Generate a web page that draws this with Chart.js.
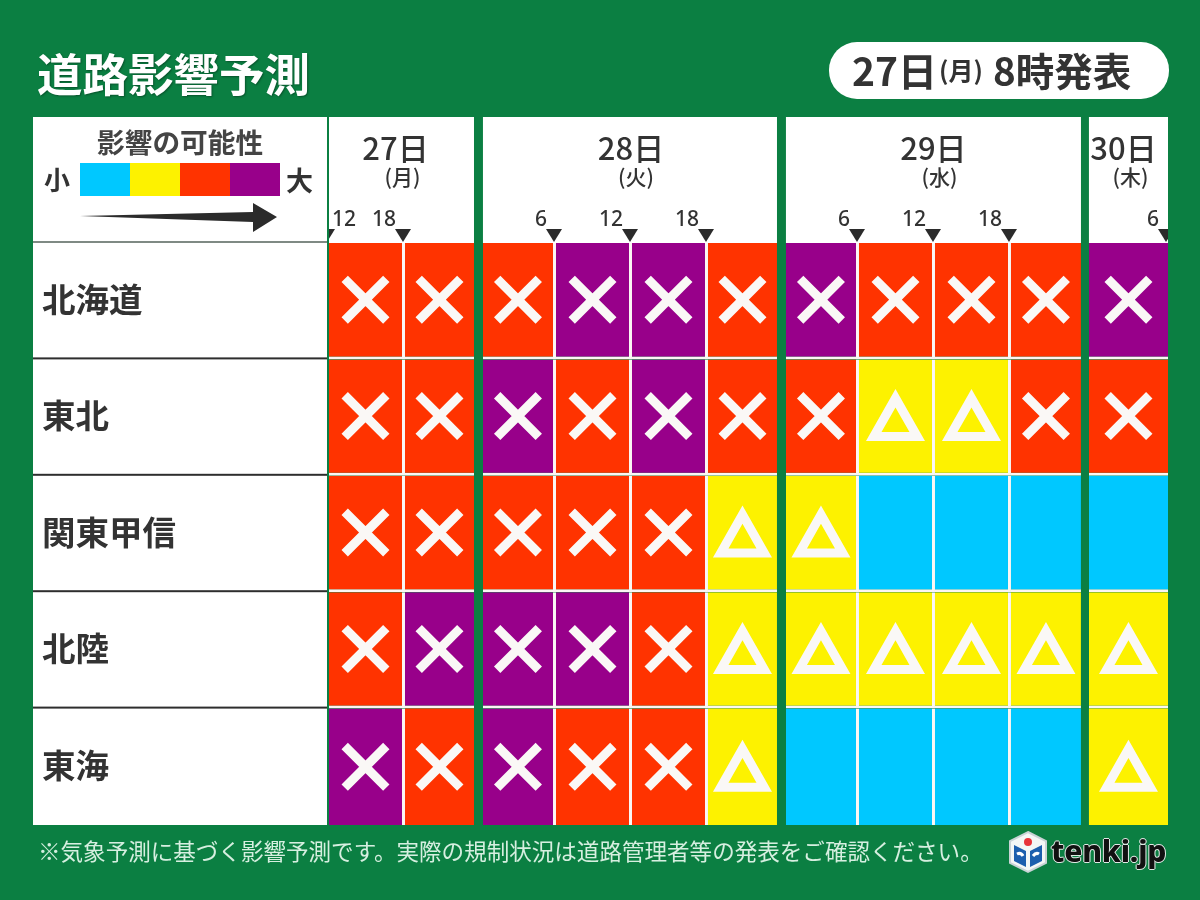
<!DOCTYPE html>
<html lang="ja">
  <head>
    <meta charset="utf-8" />
    <title>道路影響予測</title>
    <style>
      html, body { margin: 0; padding: 0; }
      body {
        width: 1200px;
        height: 900px;
        position: relative;
        overflow: hidden;
        background: #0b7f42;
        font-family: "Noto Sans CJK JP", sans-serif;
        color: #333;
      }
      #chart { position: absolute; left: 0; top: 0; }
      .abs { position: absolute; white-space: nowrap; line-height: 1; }
      #title {
        left: 37px; top: 50px;
        font-size: 45.5px; font-weight: 700; color: #fff;
        text-shadow: 1px 1px 2px rgba(0, 0, 0, 0.35);
      }
      #pill {
        left: 829px; top: 42px; width: 340px; height: 57px;
        background: #fff; border-radius: 28px;
      }
      #pill span { position: absolute; font-weight: 700; line-height: 1; white-space: nowrap; }
      #footnote { left: 38px; top: 839px; font-size: 22.55px; color: #d6efe0; }
      #legend-title { left: 97px; top: 128px; font-size: 27.7px; font-weight: 700; color: #444; }
      #legend-small { left: 44px; top: 166px; font-size: 26px; font-weight: 700; }
      #legend-big { left: 286px; top: 166px; font-size: 27px; font-weight: 700; }
      #legend-bar { left: 80px; top: 163px; width: 200px; height: 33px; display: flex; }
      #legend-bar div { flex: 1; }
      #logo-text {
        left: 1051px; top: 836px;
        font-family: "Noto Sans", sans-serif; font-size: 30px; font-weight: 800; color: #111;
        letter-spacing: -0.2px;
        text-shadow: 1px 0 0 #dfe8e4, -1px 0 0 #dfe8e4, 0 1px 0 #dfe8e4, 0 -1px 0 #dfe8e4;
      }
    </style>
    <script src="https://cdn.jsdelivr.net/npm/chart.js"></script>
  </head>

  <body>
    <canvas id="chart" width="1200" height="900"></canvas>

    <div class="abs" id="title">道路影響予測</div>
    <div class="abs" id="pill">
      <span style="left: 23px; top: 8px; font-size: 39px">27日</span>
      <span style="left: 110px; top: 15px; font-size: 25px">(月)</span>
      <span style="left: 164px; top: 8px; font-size: 38.5px">8時発表</span>
    </div>

    <div class="abs" id="legend-title">影響の可能性</div>
    <div class="abs" id="legend-small">小</div>
    <div class="abs" id="legend-big">大</div>
    <div class="abs" id="legend-bar"></div>
    <svg class="abs" style="left: 0; top: 0" width="300" height="240">
      <polygon points="80,216 253,212 253,203 277,217 253,232 253,222" fill="#2b2b2b" />
    </svg>

    <div class="abs" id="footnote">※気象予測に基づく影響予測です。実際の規制状況は道路管理者等の発表をご確認ください。</div>

    <svg class="abs" style="left: 1006px; top: 830px" width="44" height="44" viewBox="0 0 44 44">
      <polygon points="22,2 40,11 40,33 22,42 4,33 4,11" fill="#f4f7f6" stroke="#c9d3d6" stroke-width="2" />
      <polygon points="8,15 20,21 20,37 8,31" fill="#1c5fae" />
      <polygon points="36,15 24,21 24,37 36,31" fill="#1c5fae" />
      <circle cx="22" cy="12" r="4" fill="#e8343a" />
      <path d="M11 24 q4 -2 6 2 M27 26 q3 -4 6 -2" stroke="#fff" stroke-width="3" fill="none" />
    </svg>
    <div class="abs" id="logo-text">tenki.jp</div>

    <script>
      const rowLabels = ["北海道", "東北", "関東甲信", "北陸", "東海"];
      const dayLabels = ["27日", "28日", "29日", "30日"];
      const weekdayLabels = ["(月)", "(火)", "(水)", "(木)"];
      const daySlotCounts = [2, 4, 4, 1];

      // width of each time slot on the x axis
      const slotSpans = [6.19, 5.62, 5.95, 6.19, 6.19, 5.62, 5.95, 6.19, 6.19, 5.7, 6.44];
      const dayGaps = [0.73, 0.73, 0.65];
      // one label per slot boundary, "" where no mark is printed
      const hourLabels = ["12", "18", "", "6", "12", "18", "", "6", "12", "18", "", "6"];

      // 1 = cyan, 2 = yellow, 3 = red, 4 = purple
      const hokkaido = [3, 3, 3, 4, 4, 3, 4, 3, 3, 3, 4];
      const tohoku = [3, 3, 4, 3, 4, 3, 3, 2, 2, 3, 3];
      const kanto = [3, 3, 3, 3, 3, 2, 2, 1, 1, 1, 1];
      const hokuriku = [3, 4, 4, 4, 3, 2, 2, 2, 2, 2, 2];
      const tokai = [4, 3, 4, 3, 3, 2, 1, 1, 1, 1, 2];
      const levelRows = [hokkaido, tohoku, kanto, hokuriku, tokai];

      const levelColors = { 1: "#00c8ff", 2: "#fdf200", 3: "#ff3300", 4: "#98008a" };
      const lineWhite = "#fbf6f4";
      const markWhite = "#faf8f6";
      const sepWidth = 3;

      // the date text does not sit quite centred over its block in the original
      const dayTextShift = [-6, 1, 0, -5];
      const weekdayTextShift = [1, 6, 6, 2];

      document.getElementById("legend-bar").innerHTML = [1, 2, 3, 4]
        .map((l) => '<div style="background:' + levelColors[l] + '"></div>')
        .join("");

      // stacked bars: one dataset per slot, with see-through spacers between days
      const datasets = [];
      const slotDatasetIndex = [];
      const slotEndsDay = [];
      const dayRanges = [];
      const boundaries = [];
      let slot = 0;
      let pos = 0;
      daySlotCounts.forEach((count, day) => {
        const dayStart = pos;
        for (let i = 0; i < count; i++) {
          const s = slot;
          const lastInDay = i === count - 1;
          slotDatasetIndex.push(datasets.length);
          slotEndsDay.push(lastInDay);
          boundaries.push(pos);
          datasets.push({
            data: rowLabels.map(() => slotSpans[s]),
            backgroundColor: levelRows.map((row) => levelColors[row[s]]),
            borderColor: lineWhite,
            borderSkipped: false,
            inflateAmount: 0,
            borderWidth: (ctx) => ({
              top: 0,
              left: 0,
              right: lastInDay ? 0 : sepWidth,
              bottom: ctx.dataIndex < rowLabels.length - 1 ? sepWidth : 0,
            }),
          });
          pos += slotSpans[s];
          slot++;
        }
        dayRanges.push([dayStart, pos]);
        if (day < dayGaps.length) {
          datasets.push({
            data: rowLabels.map(() => dayGaps[day]),
            backgroundColor: "rgba(0,0,0,0)",
            borderWidth: 0,
            inflateAmount: 0,
          });
          pos += dayGaps[day];
        }
      });
      boundaries.push(pos);
      const totalSpan = pos;

      function drawCross(ctx, x, y) {
        const d = 20.8;
        ctx.strokeStyle = markWhite;
        ctx.lineWidth = 9;
        ctx.lineCap = "butt";
        ctx.beginPath();
        ctx.moveTo(x - d, y - d);
        ctx.lineTo(x + d, y + d);
        ctx.moveTo(x + d, y - d);
        ctx.lineTo(x - d, y + d);
        ctx.stroke();
      }

      function drawTriangle(ctx, x, y) {
        ctx.fillStyle = markWhite;
        ctx.beginPath();
        ctx.moveTo(x, y - 27);
        ctx.lineTo(x - 29.5, y + 25);
        ctx.lineTo(x + 29.5, y + 25);
        ctx.closePath();
        ctx.moveTo(x, y - 8.7);
        ctx.lineTo(x - 14, y + 16);
        ctx.lineTo(x + 14, y + 16);
        ctx.closePath();
        ctx.fill("evenodd");
      }

      const tablePlugin = {
        id: "table",
        // white panels behind the axis labels and under the date headers
        beforeDraw(chart) {
          const { ctx, chartArea, scales } = chart;
          const headerTop = 117;
          ctx.save();
          ctx.fillStyle = "#fff";
          ctx.fillRect(33, headerTop, chartArea.left - 2 - 33, chartArea.bottom - headerTop);
          dayRanges.forEach(([a, b]) => {
            const xa = scales.x.getPixelForValue(a);
            const xb = scales.x.getPixelForValue(b);
            ctx.fillRect(xa, headerTop, xb - xa, chartArea.top - headerTop);
          });
          ctx.fillStyle = "#7f8a84";
          ctx.fillRect(33, chartArea.top - 2, chartArea.left - 2 - 33, 2);
          ctx.fillStyle = "#2e2e2e";
          const band = (chartArea.bottom - chartArea.top) / rowLabels.length;
          rowLabels.slice(1).forEach((_, i) => {
            const y = scales.y.getPixelForValue(i) + band / 2;
            ctx.fillRect(33, y - 2, chartArea.left - 2 - 33, 2);
          });
          ctx.restore();
        },
        afterDraw(chart) {
          const { ctx, chartArea, scales } = chart;
          ctx.save();

          // × and △ on each cell
          levelRows.forEach((row, r) => {
            row.forEach((level, s) => {
              if (level === 1) return;
              const bar = chart.getDatasetMeta(slotDatasetIndex[s]).data[r];
              const cx = (bar.base + bar.x - (slotEndsDay[s] ? 0 : sepWidth)) / 2;
              const cy = bar.y - (r < rowLabels.length - 1 ? sepWidth / 2 : 0);
              if (level === 2) drawTriangle(ctx, cx, cy);
              else drawCross(ctx, cx, cy);
            });
          });

          // date headers
          ctx.fillStyle = "#333";
          ctx.textAlign = "center";
          ctx.textBaseline = "middle";
          dayRanges.forEach(([a, b], i) => {
            const mid = (scales.x.getPixelForValue(a) + scales.x.getPixelForValue(b)) / 2;
            ctx.font = '500 31px "Noto Sans CJK JP"';
            ctx.fillText(dayLabels[i], mid + dayTextShift[i], 148);
            ctx.font = '500 21px "Noto Sans CJK JP"';
            ctx.fillText(weekdayLabels[i], mid + weekdayTextShift[i], 177);
          });

          // hour marks along the top of the cells
          ctx.save();
          ctx.beginPath();
          ctx.rect(chartArea.left, chartArea.top - 20, chartArea.right - chartArea.left, 20);
          ctx.clip();
          ctx.fillStyle = "#2b2b2b";
          hourLabels.forEach((label, i) => {
            if (!label) return;
            const x = scales.x.getPixelForValue(boundaries[i]) - 2;
            ctx.beginPath();
            ctx.moveTo(x - 8, chartArea.top - 14);
            ctx.lineTo(x + 8, chartArea.top - 14);
            ctx.lineTo(x, chartArea.top - 1);
            ctx.closePath();
            ctx.fill();
          });
          ctx.restore();

          ctx.fillStyle = "#333";
          ctx.font = '500 21px "Noto Sans", sans-serif';
          ctx.textBaseline = "middle";
          hourLabels.forEach((label, i) => {
            if (!label) return;
            const x = scales.x.getPixelForValue(boundaries[i]);
            ctx.textAlign = i === 0 ? "left" : "right";
            ctx.fillText(label, i === 0 ? x + 3 : x - 9, 220);
          });
          ctx.restore();
        },
      };

      new Chart(document.getElementById("chart"), {
        type: "bar",
        data: { labels: rowLabels, datasets: datasets },
        plugins: [tablePlugin],
        options: {
          indexAxis: "y",
          responsive: false,
          animation: false,
          barPercentage: 1,
          categoryPercentage: 1,
          layout: { padding: { left: 42, top: 243, right: 32, bottom: 75 } },
          plugins: { legend: { display: false }, tooltip: { enabled: false } },
          scales: {
            x: { stacked: true, display: false, min: 0, max: totalSpan },
            y: {
              stacked: true,
              grid: { display: false },
              border: { display: false },
              afterFit(scale) {
                scale.width = 287;
              },
              ticks: {
                crossAlign: "far",
                color: "#333",
                autoSkip: false,
                // an empty second line lifts the label a little, as in the original
                callback(value) {
                  return [rowLabels[value], ""];
                },
                font: { family: '"Noto Sans CJK JP"', size: 33.5, weight: "700", lineHeight: 0.12 },
              },
            },
          },
        },
      });
    </script>
  </body>
</html>
